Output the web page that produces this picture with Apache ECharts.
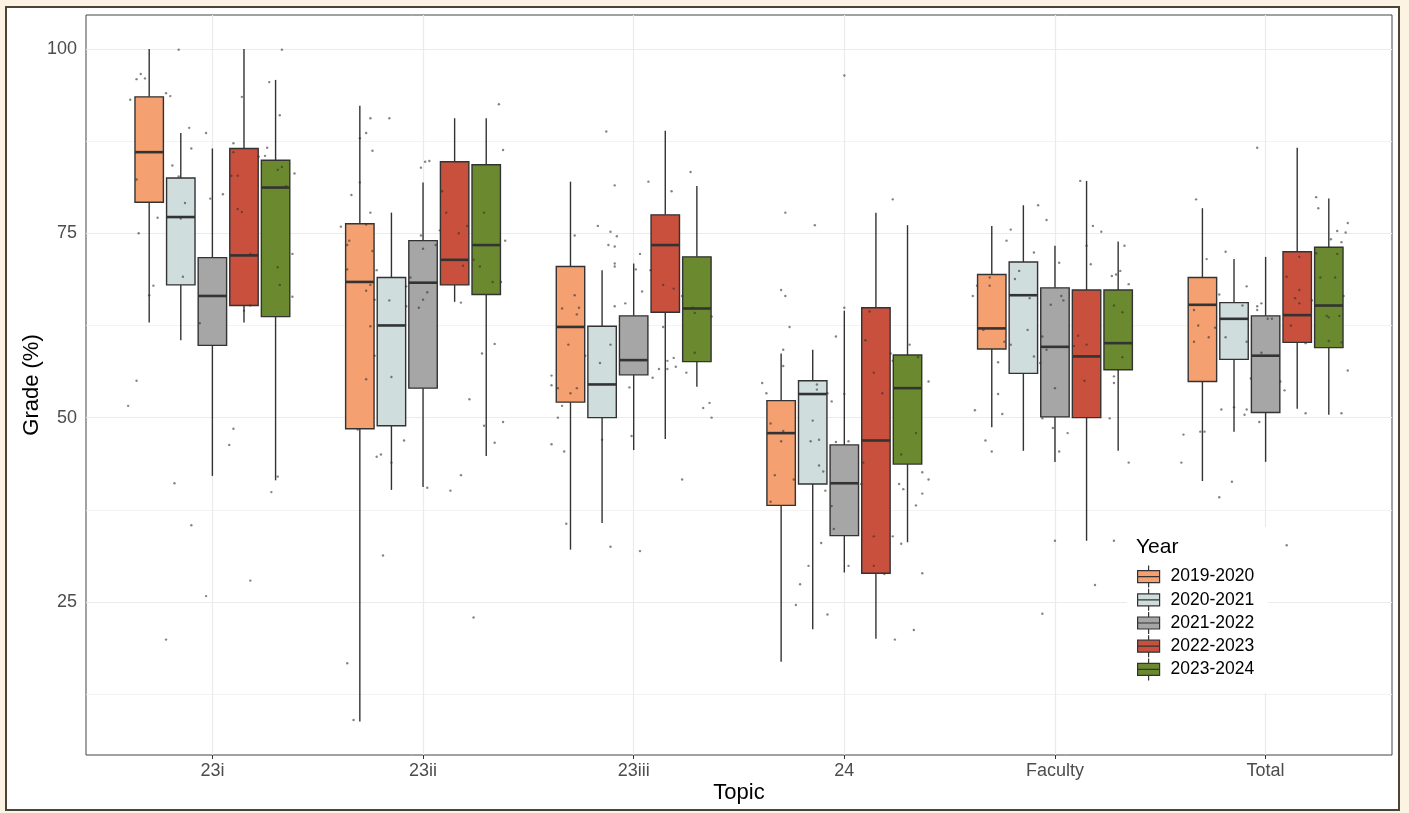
<!DOCTYPE html>
<html>
<head>
<meta charset="utf-8">
<script src="https://cdn.jsdelivr.net/npm/echarts@6/dist/echarts.min.js"></script>
<style>
    html, body {
        margin: 0;
        padding: 0;
        background: #fdf3e2;
    }
    #frame {
        position: absolute;
        left: 5px;
        top: 6px;
        width: 1391px;
        height: 801px;
        border: 2px solid #4b4437;
        background: #ffffff;
    }
    #chart {
        position: absolute;
        left: 0;
        top: 0;
        width: 1409px;
        height: 813px;
    }
</style>
</head>
<body>
<div id="frame"></div>
<div id="chart"></div>
<script>
    const topics = ['23i', '23ii', '23iii', '24', 'Faculty', 'Total'];
    const years = ['2019-2020', '2020-2021', '2021-2022', '2022-2023', '2023-2024'];
    const yTicks = [25, 50, 75, 100];
    const yMinorGrid = [12.5, 37.5, 62.5, 87.5];

    // box stats per topic: [min, q1, median, q3, max]
    const box2019 = [[62.9, 79.2, 86.0, 93.5, 100], [8.8, 48.5, 68.4, 76.3, 92.3], [32.1, 52.1, 62.3, 70.5, 82.0],
        [16.9, 38.1, 47.9, 52.3, 58.7], [48.7, 59.3, 62.1, 69.4, 76.0], [41.4, 54.9, 65.3, 69.0, 78.4]];
    const box2020 = [[60.5, 68.0, 77.2, 82.5, 88.6], [40.2, 48.9, 62.5, 69.0, 77.8], [35.7, 50.0, 54.5, 62.4, 70.0],
        [21.3, 41.0, 53.2, 55.0, 59.2], [45.5, 56.0, 66.6, 71.1, 78.8], [48.1, 57.9, 63.4, 65.6, 71.5]];
    const box2021 = [[42.1, 59.8, 66.5, 71.7, 86.5], [40.6, 54.0, 68.3, 74.0, 81.9], [45.6, 55.8, 57.8, 63.8, 70.9],
        [29.0, 34.0, 41.1, 46.3, 64.5], [44.0, 50.1, 59.6, 67.6, 73.3], [44.0, 50.7, 58.4, 63.8, 71.8]];
    const box2022 = [[62.9, 65.2, 72.0, 86.5, 100], [65.7, 68.0, 71.4, 84.7, 90.6], [47.1, 64.3, 73.4, 77.5, 88.9],
        [20.0, 28.9, 46.9, 64.9, 77.8], [33.3, 50.0, 58.3, 67.3, 82.1], [51.2, 60.2, 63.9, 72.5, 86.6]];
    const box2023 = [[41.5, 63.7, 81.2, 84.9, 95.8], [44.8, 66.7, 73.4, 84.3, 90.6], [54.2, 57.6, 64.8, 71.8, 81.4],
        [33.1, 43.7, 54.0, 58.5, 76.1], [45.5, 56.5, 60.1, 67.3, 73.9], [50.4, 59.5, 65.2, 73.1, 79.7]];

    // jittered students per topic: [offset from topic centre, grade]
    const pts23i = [[-0.39,93.1],[-0.36,95.9],[-0.34,96.6],[-0.32,96.0],[-0.22,94.0],[-0.20,93.6],[-0.16,99.9],[-0.11,89.3],[-0.10,86.5],[-0.19,84.2],[-0.03,88.6],[-0.01,79.7],[0.05,80.3],[-0.36,82.3],[-0.26,77.1],[-0.35,75.0],[-0.28,67.9],[-0.30,66.6],[-0.16,82.7],[-0.13,79.1],[-0.15,77.0],[-0.14,69.1],[-0.06,62.8],[0.10,87.2],[0.14,93.5],[0.09,82.8],[0.12,82.8],[0.12,78.3],[0.14,77.9],[0.18,72.2],[0.18,65.2],[0.15,64.5],[0.10,86.0],[0.33,99.9],[0.27,95.5],[0.32,91.0],[0.26,86.6],[0.25,85.5],[0.22,85.4],[0.39,83.1],[0.31,83.6],[0.33,84.0],[0.35,81.4],[0.38,72.2],[0.31,70.4],[0.32,68.0],[0.38,66.4],[-0.40,51.6],[-0.36,55.0],[-0.18,41.1],[-0.10,35.4],[-0.22,19.9],[-0.03,25.8],[0.10,48.5],[0.08,46.3],[0.18,27.9],[0.31,42.0],[0.28,39.9]];
    const pts23ii = [[-0.25,90.6],[-0.16,90.6],[-0.27,88.6],[-0.30,87.9],[-0.24,86.2],[-0.30,81.9],[-0.34,80.2],[-0.25,77.8],[-0.27,76.2],[-0.39,75.9],[-0.35,74.0],[-0.36,73.4],[-0.24,72.6],[-0.36,70.1],[-0.22,70.0],[-0.25,68.0],[-0.27,67.2],[-0.23,66.0],[-0.25,62.4],[-0.23,58.4],[-0.27,55.2],[-0.31,48.4],[-0.16,65.9],[-0.15,55.5],[-0.09,46.9],[-0.20,45.0],[-0.22,44.7],[-0.15,43.9],[-0.19,31.3],[-0.36,16.7],[-0.33,9.0],[-0.01,83.9],[0.01,84.7],[0.03,84.8],[-0.01,74.7],[0.00,72.9],[0.06,73.4],[-0.06,69.0],[-0.08,67.8],[-0.08,65.1],[0.02,67.0],[0.00,66.0],[-0.02,64.9],[0.02,40.5],[0.09,80.7],[0.11,77.8],[0.08,75.4],[0.17,75.0],[0.21,76.0],[0.19,70.6],[0.24,71.4],[0.18,65.6],[0.22,52.5],[0.18,42.2],[0.13,40.1],[0.24,22.9],[0.36,92.5],[0.38,86.3],[0.29,77.8],[0.39,74.0],[0.27,70.5],[0.33,68.4],[0.37,68.4],[0.28,58.7],[0.34,60.0],[0.29,48.9],[0.38,49.4],[0.34,46.6]];
    const pts23iii = [[-0.13,88.8],[-0.09,81.5],[-0.17,76.0],[-0.11,75.2],[-0.08,74.6],[-0.12,73.4],[-0.09,73.2],[-0.09,70.9],[-0.09,70.5],[-0.28,74.7],[-0.09,65.1],[-0.28,66.6],[-0.34,64.8],[-0.26,64.9],[-0.27,64.0],[-0.31,59.9],[-0.23,58.4],[-0.39,55.7],[-0.39,54.4],[-0.36,54.0],[-0.27,54.0],[-0.30,53.3],[-0.34,51.6],[-0.36,50.0],[-0.39,46.4],[-0.33,45.4],[-0.32,35.6],[-0.11,59.9],[-0.16,57.4],[-0.15,47.0],[-0.11,32.5],[0.03,72.2],[0.01,70.1],[0.04,67.1],[-0.04,65.5],[-0.02,54.1],[-0.01,47.5],[0.09,55.4],[0.03,31.9],[0.07,82.0],[0.18,80.7],[0.08,70.0],[0.14,68.0],[0.19,67.5],[0.14,62.3],[0.12,56.6],[0.16,56.6],[0.16,57.7],[0.19,58.1],[0.20,56.9],[0.27,83.3],[0.23,66.5],[0.28,64.9],[0.29,64.2],[0.37,63.7],[0.29,58.8],[0.25,56.1],[0.36,52.0],[0.33,51.3],[0.37,50.0],[0.23,41.6]];
    const pts24 = [[0.00,96.4],[0.23,79.6],[-0.28,77.8],[-0.14,76.1],[-0.30,67.3],[-0.28,66.5],[-0.26,62.3],[-0.29,59.2],[-0.29,57.0],[-0.39,54.7],[-0.37,53.3],[-0.35,49.2],[-0.29,48.2],[-0.30,46.8],[-0.33,42.2],[-0.35,38.6],[-0.24,41.6],[-0.21,27.4],[-0.23,24.6],[-0.13,54.5],[-0.13,53.8],[-0.08,53.3],[-0.06,52.2],[-0.15,49.6],[-0.16,46.8],[-0.12,47.0],[-0.12,43.5],[-0.10,42.7],[-0.09,40.1],[-0.11,33.0],[-0.17,29.9],[-0.08,23.3],[-0.04,61.0],[0.00,64.9],[0.00,53.2],[-0.04,46.7],[0.02,46.8],[-0.06,38.0],[-0.05,34.9],[0.02,29.9],[0.12,64.4],[0.10,60.5],[0.14,56.1],[0.18,53.3],[0.22,58.7],[0.09,43.9],[0.08,41.0],[0.23,33.9],[0.14,33.9],[0.14,29.9],[0.19,28.8],[0.31,59.9],[0.23,57.7],[0.40,54.9],[0.35,58.2],[0.34,47.9],[0.27,45.0],[0.37,42.6],[0.40,41.6],[0.26,41.0],[0.28,40.3],[0.37,39.7],[0.34,38.1],[0.27,32.9],[0.37,28.9],[0.24,19.9],[0.33,21.2]];
    const ptsFaculty = [[0.12,82.1],[-0.08,78.8],[-0.04,76.8],[-0.21,75.5],[-0.23,74.0],[0.18,76.0],[0.22,75.2],[-0.10,72.4],[0.15,73.3],[0.17,70.8],[0.02,71.0],[-0.17,69.9],[-0.19,68.8],[-0.31,69.0],[-0.31,67.9],[-0.37,67.9],[-0.39,66.5],[-0.12,66.2],[0.03,66.5],[0.04,65.9],[-0.02,65.3],[0.33,73.3],[0.31,69.9],[0.29,69.4],[0.27,69.2],[0.35,68.1],[0.28,65.2],[0.32,64.3],[-0.13,61.9],[-0.34,61.9],[-0.24,60.3],[-0.21,59.9],[-0.06,61.0],[-0.04,59.2],[0.11,61.1],[0.09,59.7],[0.15,59.9],[0.32,58.2],[-0.27,57.5],[-0.10,58.3],[-0.07,57.4],[0.14,55.0],[0.00,54.0],[0.28,55.6],[0.28,54.7],[-0.27,53.2],[-0.38,51.0],[-0.25,50.5],[-0.06,49.9],[0.26,49.9],[-0.01,48.6],[0.06,47.9],[-0.33,46.9],[-0.30,45.4],[0.02,45.4],[0.35,43.9],[0.00,33.3],[0.28,33.3],[0.19,27.3],[-0.06,23.4]];
    const ptsTotal = [[-0.04,86.6],[-0.33,79.6],[0.24,79.9],[0.25,78.4],[0.39,76.4],[0.34,75.3],[0.38,75.1],[0.31,74.2],[0.36,73.8],[-0.19,72.5],[0.24,72.3],[0.34,72.2],[0.16,71.8],[-0.28,71.5],[0.10,69.1],[0.26,69.0],[0.33,69.0],[0.16,67.3],[-0.09,67.8],[-0.22,66.7],[0.37,66.5],[0.14,66.2],[0.22,65.9],[-0.02,65.5],[0.16,65.5],[-0.11,65.2],[-0.04,65.1],[-0.04,64.6],[-0.34,64.6],[0.29,63.8],[0.30,63.6],[0.35,63.8],[0.01,63.4],[0.03,63.4],[-0.32,62.5],[-0.24,62.2],[0.12,62.5],[-0.19,60.9],[-0.09,60.3],[-0.34,60.3],[-0.27,60.9],[0.19,60.1],[0.30,60.4],[0.36,60.2],[-0.02,58.8],[0.39,56.4],[-0.07,55.3],[0.07,54.9],[0.09,53.7],[-0.21,51.1],[-0.15,51.4],[-0.09,51.1],[-0.10,50.4],[0.19,50.6],[0.36,50.6],[-0.03,49.4],[-0.39,47.7],[-0.31,48.1],[-0.29,48.1],[-0.40,43.9],[-0.16,41.3],[-0.22,39.2],[0.10,32.7]];

    const colors = ['#f4a070', '#cfdddd', '#a6a6a6', '#c9503c', '#6b8a2f'];
    const boxStats = [box2019, box2020, box2021, box2022, box2023];
    const ptsByTopic = [pts23i, pts23ii, pts23iii, pts24, ptsFaculty, ptsTotal];

    const dodge = 0.15;   // spacing between years inside a topic
    const boxW = 0.135;   // box width in topic units
    const font = '"Liberation Sans", Arial, sans-serif';

    let myChart = echarts.init(document.getElementById('chart'));

    let boxSeries = years.map((name, i) => ({
        name: name,
        type: 'custom',
        z: 2,
        silent: true,
        itemStyle: {color: colors[i]},
        encode: {x: 0, y: [1, 2, 3, 4, 5]},
        data: boxStats[i].map((s, t) => [t].concat(s)),
        renderItem: function (params, api) {
            let xc = api.value(0) + (i - 2) * dodge;
            let cx = api.coord([xc, 0])[0];
            let xl = api.coord([xc - boxW / 2, 0])[0];
            let xr = api.coord([xc + boxW / 2, 0])[0];
            let y = k => api.coord([xc, api.value(k)])[1];
            let ln = {stroke: '#333333', lineWidth: 1.4};
            return {
                type: 'group',
                children: [
                    {type: 'line', shape: {x1: cx, y1: y(4), x2: cx, y2: y(5)}, style: ln},
                    {type: 'line', shape: {x1: cx, y1: y(2), x2: cx, y2: y(1)}, style: ln},
                    {type: 'rect', shape: {x: xl, y: y(4), width: xr - xl, height: y(2) - y(4)},
                        style: {fill: colors[i], stroke: '#333333', lineWidth: 1.4}},
                    {type: 'line', shape: {x1: xl, y1: y(3), x2: xr, y2: y(3)},
                        style: {stroke: '#333333', lineWidth: 2.6}}
                ]
            };
        }
    }));

    let points = [];
    ptsByTopic.forEach((list, t) => {
        list.forEach(p => points.push([t + p[0], p[1]]));
    });

    // ggplot style grid lines
    let gridLines = [];
    yTicks.forEach(v => gridLines.push({yAxis: v, lineStyle: {color: '#ebebeb', width: 1.2, type: 'solid'}}));
    yMinorGrid.forEach(v => gridLines.push({yAxis: v, lineStyle: {color: '#f0f0f0', width: 0.8, type: 'solid'}}));
    topics.forEach((c, t) => gridLines.push({xAxis: t, lineStyle: {color: '#ebebeb', width: 1.2, type: 'solid'}}));

    let option = {
        animation: false,
        color: colors,
        textStyle: {fontFamily: font},
        title: {
            text: 'Year',
            left: 1136,
            top: 537,
            padding: 0,
            textStyle: {fontSize: 21, fontWeight: 'normal', color: '#000000', fontFamily: font}
        },
        legend: {
            data: years,
            orient: 'vertical',
            left: 1127,
            top: 527,
            padding: [38, 14, 12, 10],
            backgroundColor: '#ffffff',
            itemWidth: 22,
            itemHeight: 22,
            itemGap: 0,
            icon: 'path://M11,0L11,5M0,5L22,5L22,11L0,11ZM0,11L22,11L22,17L0,17ZM11,17L11,22',
            itemStyle: {borderColor: '#333333', borderWidth: 1.2},
            textStyle: {fontSize: 17.5, lineHeight: 20, color: '#000000', fontFamily: font, padding: [0, 0, 0, 6]}
        },
        grid: {
            left: 86,
            right: 17,
            top: 15,
            bottom: 58,
            show: true,
            borderColor: '#444444',
            borderWidth: 1,
            backgroundColor: 'transparent'
        },
        xAxis: {
            type: 'value',
            min: -0.6,
            max: 5.6,
            name: 'Topic',
            nameLocation: 'middle',
            nameGap: 27,
            nameMoveOverlap: false,
            nameTextStyle: {fontSize: 22, color: '#000000', fontFamily: font},
            axisLine: {show: false},
            splitLine: {show: false},
            axisTick: {show: true, length: 4, customValues: topics.map((c, t) => t),
                lineStyle: {color: '#333333', width: 1}},
            axisLabel: {
                customValues: topics.map((c, t) => t),
                formatter: v => topics[Math.round(v)],
                fontSize: 18,
                color: '#4d4d4d',
                margin: 7,
                fontFamily: font
            }
        },
        yAxis: {
            type: 'value',
            min: 4.25,
            max: 104.6,
            name: 'Grade (%)',
            nameLocation: 'middle',
            nameGap: 43,
            nameMoveOverlap: false,
            nameTextStyle: {fontSize: 22, color: '#000000', fontFamily: font},
            axisLine: {show: false},
            splitLine: {show: false},
            axisTick: {show: true, length: 4, customValues: yTicks,
                lineStyle: {color: '#333333', width: 1}},
            axisLabel: {
                customValues: yTicks,
                fontSize: 18,
                color: '#4d4d4d',
                margin: 9,
                fontFamily: font
            }
        },
        series: [
            {
                type: 'line',
                data: [],
                z: 1,
                silent: true,
                markLine: {
                    z: 1,
                    symbol: 'none',
                    silent: true,
                    animation: false,
                    label: {show: false},
                    emphasis: {disabled: true},
                    data: gridLines
                }
            }
        ].concat(boxSeries).concat([
            {
                type: 'scatter',
                z: 3,
                silent: true,
                symbolSize: 2.4,
                itemStyle: {color: 'rgba(50,50,50,0.75)'},
                data: points
            }
        ])
    };

    myChart.setOption(option);
</script>
</body>
</html>
